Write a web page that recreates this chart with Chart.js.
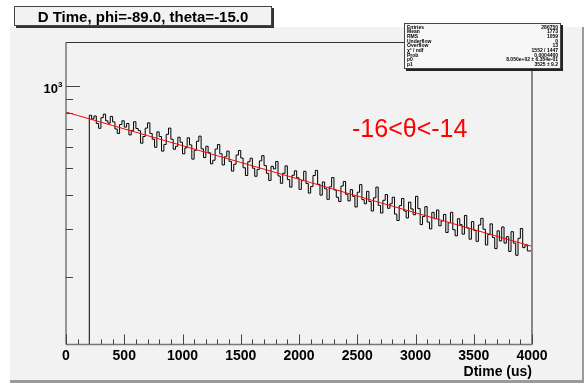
<!DOCTYPE html>
<html>
<head>
<meta charset="utf-8">
<script src="https://cdn.jsdelivr.net/npm/chart.js@4.4.1/dist/chart.umd.min.js"></script>
<style>
  html, body { margin: 0; padding: 0; background: #fff; }
  #wrap { position: relative; width: 586px; height: 384px; }
</style>
</head>
<body>
<div id="wrap"><canvas id="dtime" width="586" height="384"></canvas></div>
<script>
// D Time histogram: 20 us bins from 200 us up to 4000 us
const binStart = 200;
const binWidth = 20;
const counts = [
  652, 784, 760, 779, 731, 702, 768, 791, 748, 733,
  776, 741, 698, 672, 725, 748, 709, 731, 664, 690,
  742, 701, 688, 619, 655, 703, 735, 672, 640, 598,
  681, 655, 579, 612, 667, 703, 640, 588, 603, 651,
  624, 566, 595, 648, 610, 541, 583, 629, 657, 590,
  548, 603, 571, 520, 536, 589, 612, 566, 515, 552,
  579, 531, 489, 518, 560, 582, 546, 503, 471, 529,
  545, 501, 468, 496, 533, 557, 512, 480, 452, 509,
  498, 530, 469, 441, 480, 511, 455, 427, 472, 490,
  462, 419, 451, 488, 440, 406, 429, 471, 492, 437,
  399, 446, 421, 385, 428, 463, 417, 392, 378, 431,
  448, 402, 380, 418, 395, 361, 409, 436, 384, 371,
  412, 378, 349, 390, 427, 366, 343, 382, 401, 357,
  371, 392, 340, 322, 365, 388, 349, 329, 376, 355,
  338, 395, 356, 311, 333, 362, 318, 300, 345, 327,
  352, 308, 321, 339, 291, 316, 345, 298, 283, 327,
  311, 287, 336, 302, 275, 319, 296, 270, 310, 328,
  299, 262, 286, 313, 279, 254, 295, 271, 305, 266,
  281, 248, 293, 266, 240, 277, 301, 256, 262, 249
];

// exponential fit p0 * exp(-x / p1)
const fitP0 = 805;
const fitP1 = 3525;
const fitStep = 100;

const xMin = 0, xMax = 4000;
const yMin = 113, yMax = 1456;
const xMajorTicks = [0, 500, 1000, 1500, 2000, 2500, 3000, 3500, 4000];
const xMinorStep = 100;
const yMajorTicks = [1000];
const yMinorTicks = [200, 300, 400, 500, 600, 700, 800, 900];

const titleText = 'D Time, phi=-89.0, theta=-15.0';
const xTitle = 'Dtime (us)';
const cutText = '-16<\u03b8<-14';
const statRows = [
  ['Entries', '286750'],
  ['Mean', '1773'],
  ['RMS', '1059'],
  ['Underflow', '0'],
  ['Overflow', '13'],
  ['\u03c7\u00b2 / ndf', '1552 / 1447'],
  ['Prob', '0.0004400'],
  ['p0', '8.050e+02 \u00b1 6.354e-01'],
  ['p1', '3525 \u00b1 9.2']
];

const FONT = '"Liberation Sans", Arial, Helvetica, sans-serif';

// step outline: rise from the bottom at the first edge, close at the last edge
const histPoints = [{ x: binStart, y: yMin }];
counts.forEach((c, i) => histPoints.push({ x: binStart + i * binWidth, y: c }));
histPoints.push({ x: binStart + counts.length * binWidth, y: counts[counts.length - 1] });

const fitPoints = [];
for (let x = xMin; x <= xMax; x += fitStep) {
  fitPoints.push({ x: x, y: fitP0 * Math.exp(-x / fitP1) });
}

function line(ctx, x1, y1, x2, y2) {
  ctx.beginPath();
  ctx.moveTo(x1, y1);
  ctx.lineTo(x2, y2);
  ctx.stroke();
}

// ROOT style pad, frame, ticks and boxes
const padPlugin = {
  id: 'rootPad',
  beforeDraw(chart) {
    const ctx = chart.ctx;
    ctx.save();
    ctx.fillStyle = '#ffffff';
    ctx.fillRect(0, 0, chart.width, chart.height);
    ctx.fillStyle = '#f2f2f2';
    ctx.fillRect(10, 27, 574, 354);
    ctx.fillStyle = '#9a9a9a';
    ctx.fillRect(10, 380, 574, 3);
    ctx.fillRect(582, 27, 2, 356);
    ctx.restore();
  },
  afterDraw(chart) {
    const ctx = chart.ctx;
    const xs = chart.scales.x, ys = chart.scales.y;
    const { left, right, top, bottom } = chart.chartArea;
    ctx.save();

    // frame
    ctx.strokeStyle = '#333';
    ctx.lineWidth = 1;
    line(ctx, left, top + 0.5, right, top + 0.5);
    ctx.strokeStyle = '#777';
    ctx.lineWidth = 1.5;
    line(ctx, left, top, left, bottom);
    line(ctx, left, bottom, right, bottom);
    ctx.lineWidth = 2;
    ctx.strokeStyle = '#888';
    line(ctx, right, top, right, bottom);

    // x ticks pointing into the frame
    ctx.strokeStyle = '#444';
    ctx.lineWidth = 1;
    for (let v = xMin; v <= xMax; v += xMinorStep) {
      const px = Math.round(xs.getPixelForValue(v)) + 0.5;
      const len = xMajorTicks.includes(v) ? 10 : 5;
      line(ctx, px, bottom, px, bottom - len);
    }
    // y ticks
    yMinorTicks.forEach(v => {
      const py = Math.round(ys.getPixelForValue(v)) + 0.5;
      line(ctx, left, py, left + 7, py);
    });
    yMajorTicks.forEach(v => {
      const py = Math.round(ys.getPixelForValue(v)) + 0.5;
      line(ctx, left, py, left + 14, py);
      ctx.fillStyle = '#000';
      ctx.textBaseline = 'alphabetic';
      ctx.textAlign = 'right';
      ctx.font = 'bold 13px ' + FONT;
      ctx.fillText('10', left - 8, py + 6);
      ctx.textAlign = 'left';
      ctx.font = 'bold 8px ' + FONT;
      ctx.fillText(String(Math.round(Math.log10(v))), left - 8, py);
    });

    // title box
    ctx.fillStyle = '#333';
    ctx.fillRect(16, 8, 258, 20);
    ctx.fillStyle = '#f2f2f2';
    ctx.fillRect(14, 6, 258, 20);
    ctx.strokeStyle = '#444';
    ctx.lineWidth = 1;
    ctx.strokeRect(14.5, 6.5, 257, 19);
    ctx.fillStyle = '#000';
    ctx.font = 'bold 15px ' + FONT;
    ctx.textAlign = 'center';
    ctx.textBaseline = 'alphabetic';
    ctx.fillText(titleText, 143, 22);

    // statistics box
    const sx = 404, sy = 23, sw = 157, sh = 46;
    ctx.fillStyle = '#222';
    ctx.fillRect(sx + 2, sy + 2, sw, sh);
    ctx.fillStyle = '#f7f7f7';
    ctx.fillRect(sx, sy, sw, sh);
    ctx.strokeStyle = '#444';
    ctx.strokeRect(sx + 0.5, sy + 0.5, sw - 1, sh - 1);
    ctx.font = 'bold 5px ' + FONT;
    ctx.fillStyle = '#000';
    const rowH = (sh - 4) / statRows.length;
    statRows.forEach((r, i) => {
      const ty = sy + 2 + rowH * (i + 0.5);
      ctx.textBaseline = 'middle';
      ctx.textAlign = 'left';
      ctx.fillText(r[0], sx + 3, ty);
      ctx.textAlign = 'right';
      ctx.fillText(r[1], sx + sw - 3, ty);
    });

    // angular cut label
    ctx.fillStyle = '#ff0000';
    ctx.font = '25px ' + FONT;
    ctx.textAlign = 'left';
    ctx.textBaseline = 'alphabetic';
    ctx.fillText(cutText, 352, 137);

    ctx.restore();
  }
};

new Chart(document.getElementById('dtime'), {
  type: 'line',
  data: {
    datasets: [
      {
        label: 'fit',
        data: fitPoints,
        borderColor: '#ff0000',
        borderWidth: 1,
        pointRadius: 0,
        tension: 0
      },
      {
        label: 'D Time',
        data: histPoints,
        borderColor: '#000000',
        borderWidth: 1,
        pointRadius: 0,
        stepped: 'after'
      }
    ]
  },
  options: {
    responsive: false,
    animation: false,
    devicePixelRatio: 1,
    parsing: false,
    layout: { padding: { left: 66, right: 54, top: 42, bottom: 3 } },
    plugins: {
      legend: { display: false },
      tooltip: { enabled: false }
    },
    scales: {
      x: {
        type: 'linear',
        min: xMin,
        max: xMax,
        grid: { display: false, drawTicks: false },
        border: { display: false },
        afterBuildTicks: (s) => { s.ticks = xMajorTicks.map(v => ({ value: v })); },
        ticks: {
          color: '#000',
          padding: 3,
          maxRotation: 0,
          autoSkip: false,
          callback: (v) => String(v),
          font: { family: FONT, size: 14, weight: 'bold' }
        },
        title: {
          display: true,
          text: xTitle,
          align: 'end',
          color: '#000',
          padding: { top: -3, bottom: 0 },
          font: { family: FONT, size: 14, weight: 'bold' }
        }
      },
      y: {
        type: 'logarithmic',
        min: yMin,
        max: yMax,
        display: false
      }
    }
  },
  plugins: [padPlugin]
});
</script>
</body>
</html>
